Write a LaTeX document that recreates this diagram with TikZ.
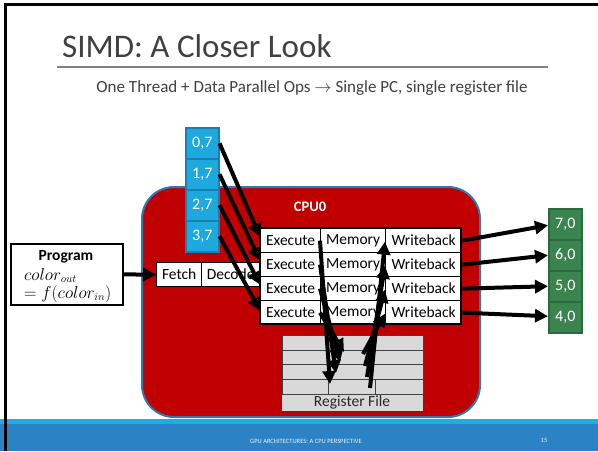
\documentclass[tikz,border=0pt]{standalone}
\usepackage{fontspec}
\setmainfont{Carlito}
\usetikzlibrary{arrows.meta}
\definecolor{cpured}{HTML}{C00000}
\definecolor{cpublue}{HTML}{2E7BB3}
\definecolor{inblue}{HTML}{1DA8DE}
\definecolor{inbord}{HTML}{1A7FB0}
\definecolor{outgreen}{HTML}{3A8450}
\definecolor{outbord}{HTML}{2B6A3C}
\definecolor{rfgray}{HTML}{D9D9D9}
\definecolor{titlegray}{HTML}{404040}
\definecolor{rulegray}{HTML}{808080}
\definecolor{footlight}{HTML}{1DAEE6}
\definecolor{footdark}{HTML}{2B83C6}
\begin{document}
\begin{tikzpicture}[x=1pt,y=-1pt,
  stage/.style={draw=black,line width=1.3pt,fill=white,minimum height=24pt,inner sep=0pt,anchor=north west,font=\fontsize{15.5}{16}\selectfont},
  inbox/.style={draw=inbord,line width=1.5pt,fill=inblue,text=white,minimum width=33pt,minimum height=31pt,inner sep=0pt,anchor=north west,font=\fontsize{16}{16}\selectfont},
  outbox/.style={draw=outbord,line width=1.5pt,fill=outgreen,text=white,minimum width=33pt,minimum height=31pt,inner sep=0pt,anchor=north west,font=\fontsize{16}{16}\selectfont},
  arr/.style={line width=4pt,-{Triangle[length=13pt,width=13pt]}},
]
\useasboundingbox (0,0) rectangle (598,451);
\fill[white] (0,0) rectangle (598,451);

% title area
\node[anchor=base west,inner sep=0pt,text=titlegray,font=\fontsize{33}{33}\selectfont] (title) at (62,57) {SIMD: A Closer Look};
\draw[rulegray,line width=2pt] (57,67) -- (548,67);
\node[inner sep=0pt,text=titlegray,font=\fontsize{17}{17}\selectfont] (sub) at (312,88) {One Thread + Data Parallel Ops $\rightarrow$ Single PC, single register file};

% CPU
\node[draw=cpublue,fill=cpured,line width=2pt,rounded corners=32pt,minimum width=338pt,minimum height=230pt,inner sep=0pt,anchor=north west] (cpu) at (141,186) {};
\node[text=white,font=\bfseries\fontsize{14.5}{15}\selectfont] (cpulabel) at (310,207) {CPU0};

% program
\node[draw=black,line width=1.8pt,fill=white,minimum width=112pt,minimum height=61pt,inner sep=0pt,anchor=north west] (prog) at (10,243) {};
\node[inner sep=0pt,font=\bfseries\fontsize{15.5}{16}\selectfont] (progtitle) at (66,257) {Program};
\node[inner sep=0pt,anchor=base west,font=\fontsize{16}{16}\selectfont] (eq1) at (24,280) {$color_{out}$};
\node[inner sep=0pt,anchor=base west,font=\fontsize{16}{16}\selectfont] (eq2) at (24,298) {$=f(color_{in})$};

% fetch / decode
\node[stage,minimum width=45pt] (fetch) at (156,262) {Fetch};
\node[stage,minimum width=58pt] (decode) at (201,262) {Decode};

% pipeline rows
\foreach \i/\y in {1/228,2/252,3/276,4/300}{
  \node[stage,minimum width=60pt] (e\i) at (260,\y) {Execute};
  \node[stage,minimum width=65pt] (m\i) at (320,\y) {Memory};
  \node[stage,minimum width=76pt] (w\i) at (385,\y) {Writeback};
}
\draw[black,line width=2.2pt] (260,228) rectangle (461,324);

% register file
\fill[rfgray] (282,335) rectangle (423,411);
\draw[titlegray,line width=1pt] (282,335) rectangle (423,394);
\foreach \y in {350,364,379}{\draw[titlegray,line width=1pt] (282,\y) -- (423,\y);}
\draw[titlegray,line width=1pt] (328,379) -- (328,394);
\draw[titlegray,line width=1pt] (375,379) -- (375,394);
\node[inner sep=0pt,text=black!85,font=\fontsize{15.5}{16}\selectfont] (rf) at (352,402) {Register File};

% inputs
\node[inbox] (i0) at (185,127) {0,7};
\node[inbox] (i1) at (185,158) {1,7};
\node[inbox] (i2) at (185,189) {2,7};
\node[inbox] (i3) at (185,220) {3,7};

% outputs
\node[outbox] (o7) at (548,208) {7,0};
\node[outbox] (o6) at (548,239) {6,0};
\node[outbox] (o5) at (548,270) {5,0};
\node[outbox] (o4) at (548,301) {4,0};

% register file ports
\coordinate (d1) at (330,384);
\coordinate (d2) at (336,373);
\coordinate (d3) at (340,362);
\coordinate (d4) at (344,352);
\coordinate (u1) at (370,388);
\coordinate (u2) at (367,377);
\coordinate (u3) at (365,366);
\coordinate (u4) at (363,354);

% arrows
\draw[arr] (prog.east) -- (fetch.west);
\draw[arr] (i0.east) -- ([yshift=4pt]e1.west);
\draw[arr] (i1.east) -- ([yshift=4pt]e2.west);
\draw[arr] (i2.east) -- ([yshift=4pt]e3.west);
\draw[arr] (i3.east) -- ([yshift=2pt]e4.west);

\draw[arr] (m1.west) -- (d1);
\draw[arr] (m2.west) -- (d2);
\draw[arr] (m3.west) -- (d3);
\draw[arr] (m4.west) -- (d4);

\draw[arr] (u1) -- ([yshift=-1pt]w1.west);
\draw[arr] (u2) -- ([yshift=-1pt]w2.west);
\draw[arr] (u3) -- ([yshift=-1pt]w3.west);
\draw[arr] (u4) -- ([yshift=-1pt]w4.west);

\draw[arr] (w1.east) -- ([yshift=-1pt]o7.west);
\draw[arr] (w2.east) -- (o6.west);
\draw[arr] (w3.east) -- (o5.west);
\draw[arr] (w4.east) -- ([yshift=1pt]o4.west);

% footer
\fill[footlight] (0,419) rectangle (598,424);
\fill[footdark] (0,424) rectangle (598,451);
\node[inner sep=0pt,text=white!90!footdark,font=\fontsize{6.5}{7}\selectfont] (foot) at (306,441) {GPU ARCHITECTURES: A CPU PERSPECTIVE};
\node[inner sep=0pt,text=white!90!footdark,font=\fontsize{6.5}{7}\selectfont] (page) at (544,440) {15};

% frame
\draw[black,line width=3pt] (5,451) -- (5,4.5) -- (598,4.5);
\end{tikzpicture}
\end{document}
